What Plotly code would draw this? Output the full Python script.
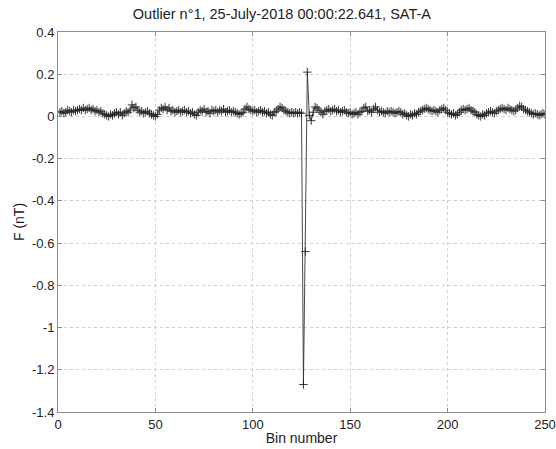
import plotly.graph_objects as go

bins = list(range(1, 251))
F_nT = [
    0.02, 0.025, 0.015, 0.02, 0.03, 0.025, 0.02, 0.03, 0.025, 0.03,
    0.035, 0.03, 0.04, 0.03, 0.035, 0.04, 0.03, 0.035, 0.025, 0.03,
    0.02, 0.025, 0.015, 0.01, 0.005, 0.0, 0.01, 0.005, 0.015, 0.02,
    0.01, 0.02, 0.005, 0.015, 0.025, 0.02, 0.03, 0.055, 0.04, 0.045,
    0.03, 0.02, 0.025, 0.015, 0.02, 0.025, 0.015, 0.01, 0.005, 0.0,
    0.01, 0.03, 0.04, 0.035, 0.045, 0.03, 0.04, 0.025, 0.03, 0.02,
    0.025, 0.03, 0.02, 0.025, 0.03, 0.02, 0.025, 0.015, 0.02, 0.01,
    0.005, 0.02, 0.03, 0.025, 0.035, 0.02, 0.025, 0.015, 0.03, 0.025,
    0.03, 0.02, 0.03, 0.025, 0.035, 0.02, 0.025, 0.03, 0.02, 0.025,
    0.02, 0.015, 0.01, 0.015, 0.02, 0.035, 0.045, 0.035, 0.03, 0.025,
    0.03, 0.02, 0.025, 0.03, 0.02, 0.025, 0.015, 0.02, 0.01, 0.005,
    0.02, 0.025, 0.035, 0.045, 0.04, 0.03, 0.025, 0.02, 0.015, 0.02,
    0.015, 0.02, 0.015, 0.02, 0.015, -1.27, -0.64, 0.21, 0.005, -0.02,
    0.02, 0.045, 0.04, 0.03, 0.02, 0.01, 0.025, 0.03, 0.035, 0.025,
    0.03, 0.035, 0.025, 0.03, 0.02, 0.025, 0.03, 0.02, 0.015, 0.02,
    0.01, 0.015, 0.02, 0.01, 0.02, 0.025, 0.04, 0.045, 0.025, 0.03,
    0.02, 0.035, 0.045, 0.03, 0.02, 0.025, 0.02, 0.015, 0.025, 0.02,
    0.025, 0.02, 0.015, 0.02, 0.025, 0.02, 0.01, 0.015, 0.005, 0.0,
    0.01, 0.005, 0.015, 0.01, 0.02, 0.025, 0.03, 0.035, 0.04, 0.035,
    0.03, 0.025, 0.03, 0.025, 0.02, 0.03, 0.035, 0.04, 0.03, 0.02,
    0.015, 0.01, 0.015, 0.005, 0.01, 0.02, 0.03, 0.035, 0.03, 0.035,
    0.04, 0.03, 0.025, 0.02, 0.01, 0.005, 0.0, 0.01, 0.005, 0.015,
    0.02, 0.025, 0.02, 0.015, 0.025, 0.03, 0.035, 0.04, 0.035, 0.03,
    0.04, 0.035, 0.03, 0.025, 0.03, 0.04, 0.05, 0.045, 0.035, 0.03,
    0.025, 0.02, 0.015, 0.01, 0.015, 0.01, 0.005, 0.01, 0.015, 0.01,
]
x_ticks = [0, 50, 100, 150, 200, 250]
y_ticks = [0.4, 0.2, 0, -0.2, -0.4, -0.6, -0.8, -1, -1.2, -1.4]
y_tick_labels = ["0.4", "0.2", "0", "-0.2", "-0.4", "-0.6", "-0.8", "-1", "-1.2", "-1.4"]

fig = go.Figure()
fig.add_trace(go.Scatter(
    x=bins, y=F_nT, mode="lines+markers",
    line=dict(color="#333333", width=0.9),
    marker=dict(symbol="cross-thin", size=6, line=dict(color="#222222", width=0.9)),
    showlegend=False,
))

font = "Liberation Sans, Arial, sans-serif"
axis_common = dict(
    showline=True, linecolor="#8c8c8c", linewidth=1, mirror="ticks",
    ticks="inside", ticklen=4, tickcolor="#8c8c8c",
    showgrid=True, gridcolor="#d0d0d0", griddash="dot", gridwidth=1,
    zeroline=False, tickfont=dict(family=font, size=13, color="#222222"),
    automargin=False,
)
fig.update_xaxes(range=[0, 250], tickvals=x_ticks, **axis_common,
                 title=dict(text="Bin number", font=dict(family=font, size=14, color="#222222"), standoff=2))
fig.update_yaxes(range=[-1.4, 0.4], tickvals=y_ticks, ticktext=y_tick_labels, **axis_common,
                 title=dict(text="F (nT)", font=dict(family=font, size=14, color="#222222"), standoff=4))
fig.update_layout(
    width=556, height=449,
    margin=dict(l=58, r=11, t=32, b=37),
    paper_bgcolor="white", plot_bgcolor="white",
    title=dict(text="Outlier n°1, 25-July-2018 00:00:22.641, SAT-A",
               font=dict(family=font, size=14.5, color="#222222"),
               x=0.507, xref="container", xanchor="center", y=0.97, yref="container", yanchor="middle"),
)
fig.write_html("out.html")
